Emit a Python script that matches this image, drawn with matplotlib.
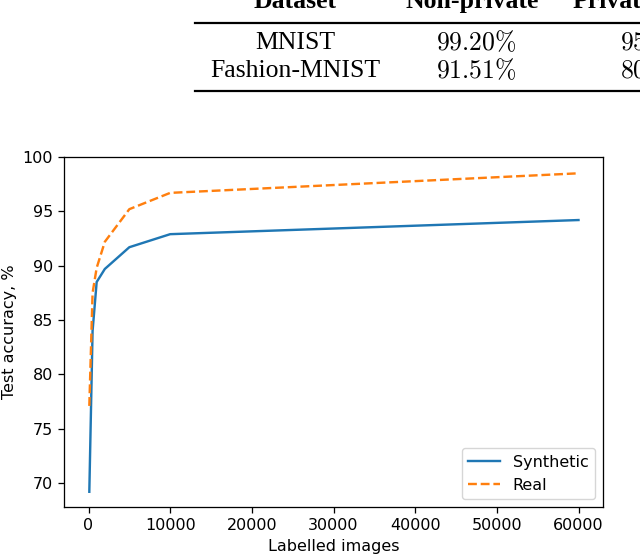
#!/usr/bin/env python3
"""Test accuracy vs. number of labelled images, with the table strip above it."""

import matplotlib.pyplot as plt
from matplotlib.lines import Line2D

# curve data
labelled = [100, 500, 1000, 2000, 5000, 10000, 60000]
synthetic_acc = [69.2, 84.0, 88.5, 89.7, 91.7, 92.9, 94.2]
real_acc = [77.1, 87.5, 89.8, 92.2, 95.2, 96.7, 98.5]

# table strip shown above the chart
table_header = ["Dataset", "Non-private", "Private"]
table_datasets = ["MNIST", "Fashion-MNIST"]
table_nonprivate = [r"$99.20\%$", r"$91.51\%$"]
table_private = [r"$95$", r"$80$"]

W, H = 640, 557
S = 1.15  # the chart was scaled up a little in the page


def fx(px):
    return px / W


def fy(py):
    return 1 - py / H


def main() -> None:
    plt.rcParams.update({
        "mathtext.fontset": "cm",
        "font.size": 10 * S,
        "axes.linewidth": 0.8 * S,
        "xtick.major.size": 3.5 * S,
        "ytick.major.size": 3.5 * S,
        "xtick.major.width": 0.8 * S,
        "ytick.major.width": 0.8 * S,
        "xtick.major.pad": 3.5 * S,
        "ytick.major.pad": 3.5 * S,
        "lines.linewidth": 1.5 * S,
    })
    fig = plt.figure(figsize=(6.4, 5.57), dpi=100)

    # --- table strip ---
    serif = "Liberation Serif"
    hx = [295, 472, 573]
    has = ["center", "center", "left"]
    for text, x, ha in zip(table_header, hx, has):
        fig.text(fx(x), fy(8), text, ha=ha, va="baseline", fontsize=18.5,
                 family=serif, fontweight="bold")
    for i, y in enumerate([43, 71]):
        fig.text(fx(295), fy(y), table_datasets[i], ha="center", va="center",
                 fontsize=18.5, family=serif)
        fig.text(fx(476), fy(y), table_nonprivate[i], ha="center", va="center",
                 fontsize=18.5)
        fig.text(fx(620), fy(y), table_private[i], ha="left", va="center",
                 fontsize=18.5)
    for y in (23, 91):
        fig.add_artist(Line2D([fx(195), 1.0], [fy(y), fy(y)],
                              transform=fig.transFigure, lw=1.6, color="black"))

    # --- chart ---
    ax = fig.add_axes([fx(64), fy(507), fx(603) - fx(64), fy(157) - fy(507)])
    ax.plot(labelled, synthetic_acc, color="#1f77b4", label="Synthetic")
    ax.plot(labelled, real_acc, color="#ff7f0e", ls="--", label="Real")
    ax.set_xlim(-3000, 63000)
    ax.set_ylim(67.8, 100)
    ax.set_yticks([70, 75, 80, 85, 90, 95, 100])
    ax.set_xlabel("Labelled images")
    ax.set_ylabel("Test accuracy, %")
    ax.legend(loc="lower right")

    fig.savefig("out.png", dpi=100, facecolor="white")
    plt.close(fig)


if __name__ == "__main__":
    main()
